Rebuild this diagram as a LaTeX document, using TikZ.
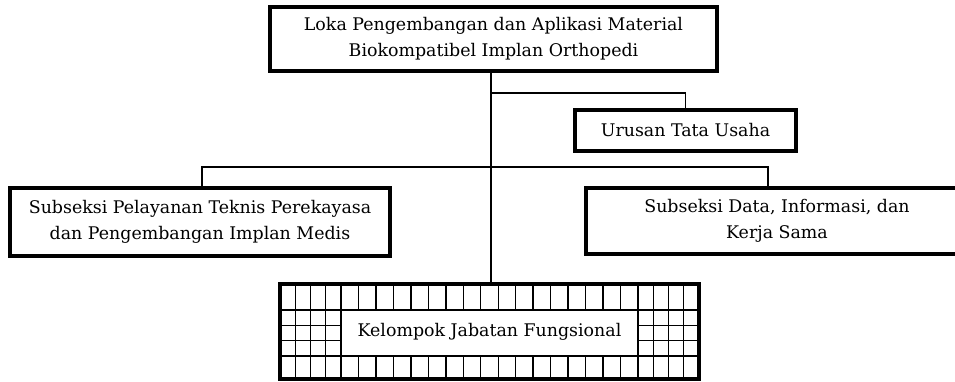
\documentclass[tikz,border=0pt]{standalone}
\usepackage{fontspec}
\setmainfont{DejaVu Serif}
\begin{document}
\begin{tikzpicture}[x=1pt,y=-1pt,
  box/.style={draw,line width=3.2pt,inner sep=0pt,align=center,font=\fontsize{17.4}{26}\selectfont},
  conn/.style={line width=1.4pt},
  gridln/.style={line width=1.4pt}]
\useasboundingbox (0,0) rectangle (955,381);
\fill[white] (0,0) rectangle (955,381);
% grid of the bottom box
\foreach \i in {1,2,3} {
  \draw[gridln] (280+15.25*\i,284) -- (280+15.25*\i,379);
  \draw[gridln] (638+15.25*\i,284) -- (638+15.25*\i,379);
}
\draw[gridln] (341,284) -- (341,379);
\draw[gridln] (638,284) -- (638,379);
\foreach \j in {1,...,16} {
  \draw[gridln] (341+17.47*\j,284) -- (341+17.47*\j,310);
  \draw[gridln] (341+17.47*\j,356) -- (341+17.47*\j,379);
}
\draw[gridln] (280,310) -- (699,310);
\draw[gridln] (280,356) -- (699,356);
\foreach \y in {325.3,340.7} {
  \draw[gridln] (280,\y) -- (341,\y);
  \draw[gridln] (638,\y) -- (699,\y);
}
% boxes
\node[box,minimum width=447pt,minimum height=64pt] (top) at (493.5,39)
  {Loka Pengembangan dan Aplikasi Material\\Biokompatibel Implan Orthopedi};
\node[box,minimum width=221pt,minimum height=41pt] (urusan) at (685.5,130.5)
  {Urusan Tata Usaha};
\node[box,minimum width=380pt,minimum height=68pt] (left) at (200,222)
  {Subseksi Pelayanan Teknis Perekayasa\\dan Pengembangan Implan Medis};
\node[box,minimum width=382pt,minimum height=66pt] (right) at (777,221)
  {Subseksi Data, Informasi, dan\\Kerja Sama};
\node[box,minimum width=419pt,minimum height=95pt] (kjf) at (489.5,331.5)
  {Kelompok Jabatan Fungsional};
% connectors
\coordinate (tr) at (491,0);
\coordinate (b1) at (491,93);
\coordinate (b2l) at (202,167);
\coordinate (b2r) at (768,167);
\draw[conn] (top.south -| tr) -- (kjf.north -| tr);
\draw[conn] (b1) -| (urusan.north);
\draw[conn] (left.north -| b2l) -- (b2l) -- (b2r) -- (right.north -| b2r);
\end{tikzpicture}
\end{document}
